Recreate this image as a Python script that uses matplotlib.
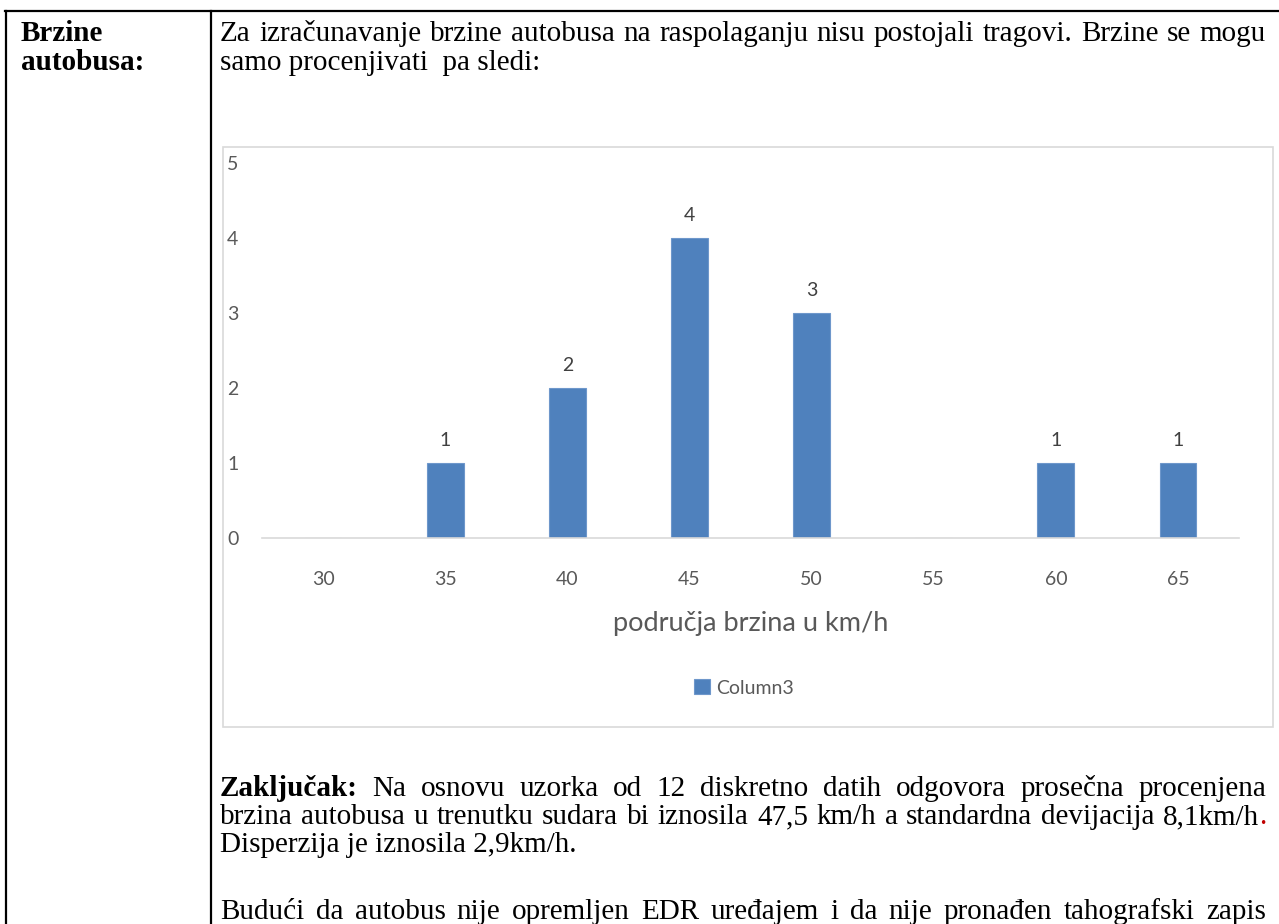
import matplotlib
matplotlib.use("Agg")
import matplotlib.pyplot as plt
from matplotlib.lines import Line2D
from matplotlib.patches import Rectangle

# ============================================
# DATA
# ============================================

speeds = ["30", "35", "40", "45", "50", "55", "60", "65"]
counts = [0, 1, 2, 4, 3, 0, 1, 1]
series_name = "Column3"
x_title = "područja brzina u km/h"

cell_label = ["Brzine", "autobusa:"]
intro_lines = [
    "Za izračunavanje brzine autobusa na raspolaganju nisu postojali tragovi. Brzine se mogu",
    "samo procenjivati  pa sledi:",
]
conclusion_lines = [
    "Zaključak: Na osnovu uzorka od 12 diskretno datih odgovora prosečna procenjena",
    "brzina autobusa u trenutku sudara bi iznosila 47,5 km/h a standardna devijacija 8,1km/h",
    "Disperzija je iznosila 2,9km/h.",
]
last_line = "Budući da autobus nije opremljen EDR uređajem i da nije pronađen tahografski zapis"

# ============================================
# FIGURE
# ============================================

W, H = 1279, 924
fig = plt.figure(figsize=(W / 100, H / 100), dpi=100)
fig.patch.set_facecolor("white")

def fx(px):
    return px / W

def fy(py):
    return 1 - py / H

SERIF = "Liberation Serif"
SANS = "Lato"
TXT = "#595959"
BLUE = "#4F81BD"
FS = 21
X0, X1 = 220, 1266

# table borders
for (x0, y0, x1, y1) in [(5, 11, 1279, 11), (6, 11, 6, 924), (211, 11, 211, 924)]:
    fig.add_artist(Line2D([fx(x0), fx(x1)], [fy(y0), fy(y1)], color="black", lw=1.6))

# left cell
for i, s in enumerate(cell_label):
    fig.text(fx(21), fy(41 + 29 * i), s, fontsize=FS, fontweight="bold",
             family=SERIF, va="baseline")

renderer = fig.canvas.get_renderer()

def justify(line, y, x0=X0, x1=X1, bold_first=False, red_tail=False):
    words = line.split()
    arts = []
    for k, w in enumerate(words):
        wt = "bold" if (bold_first and k == 0) else "normal"
        t = fig.text(0, fy(y), w, fontsize=FS, family=SERIF, fontweight=wt, va="baseline")
        arts.append(t)
    widths = [a.get_window_extent(renderer).width for a in arts]
    tail_w = 0
    if red_tail:
        dot = fig.text(0, fy(y), ".", fontsize=FS, family=SERIF, color="#C00000", va="baseline")
        tail_w = dot.get_window_extent(renderer).width
    gap = (x1 - x0 - sum(widths) - tail_w) / (len(words) - 1)
    x = x0
    for a, w in zip(arts, widths):
        a.set_x(fx(x))
        x += w + gap
    if red_tail:
        dot.set_x(fx(x - gap))

justify(intro_lines[0], 41)
fig.text(fx(X0), fy(70), intro_lines[1], fontsize=FS, family=SERIF, va="baseline")

justify(conclusion_lines[0], 796, bold_first=True)
justify(conclusion_lines[1], 824, red_tail=True)
fig.text(fx(X0), fy(852), conclusion_lines[2], fontsize=FS, family=SERIF, va="baseline")
justify(last_line, 919)

# chart frame
fig.add_artist(Rectangle((fx(223), fy(727)), fx(1273) - fx(223), fy(147) - fy(727),
                         transform=fig.transFigure, facecolor="white",
                         edgecolor="#D9D9D9", lw=1.2, zorder=0))

# ============================================
# BAR CHART
# ============================================

ax = fig.add_axes([fx(262), fy(538), fx(1239) - fx(262), fy(163) - fy(538)])
ax.set_facecolor("none")
pos = list(range(len(speeds)))
ax.bar(pos, counts, width=0.3, color=BLUE, edgecolor="#6E97CB", lw=0.8, label=series_name, zorder=2)
ax.set_xlim(-0.5, len(speeds) - 0.5)
ax.set_ylim(0, 5)

for p, c in zip(pos, counts):
    if c > 0:
        ax.annotate(str(c), (p, c), xytext=(0, 14), textcoords="offset pixels",
                    ha="center", va="bottom", fontsize=14, color="#404040", family=SANS)

for side in ["top", "right", "left"]:
    ax.spines[side].set_visible(False)
ax.spines["bottom"].set_color("#D9D9D9")
ax.spines["bottom"].set_linewidth(1.2)

ax.set_xticks(pos)
ax.set_xticklabels(speeds)
ax.set_yticks(range(6))
ax.tick_params(axis="both", length=0, labelsize=14, labelcolor=TXT)
ax.tick_params(axis="x", pad=24)
ax.tick_params(axis="y", pad=25)
for lab in ax.get_xticklabels() + ax.get_yticklabels():
    lab.set_family(SANS)
for lab in ax.get_yticklabels():
    lab.set_horizontalalignment("left")

ax.set_xlabel(x_title, fontsize=19.5, color=TXT, family=SANS, labelpad=16)

leg = ax.legend(loc="center", bbox_to_anchor=(fx(744), fy(688)), bbox_transform=fig.transFigure,
                frameon=False, fontsize=14, handlelength=0.8, handleheight=0.8,
                handletextpad=0.3)
for t in leg.get_texts():
    t.set_color(TXT)
    t.set_family(SANS)

fig.savefig("out.png", dpi=100)
